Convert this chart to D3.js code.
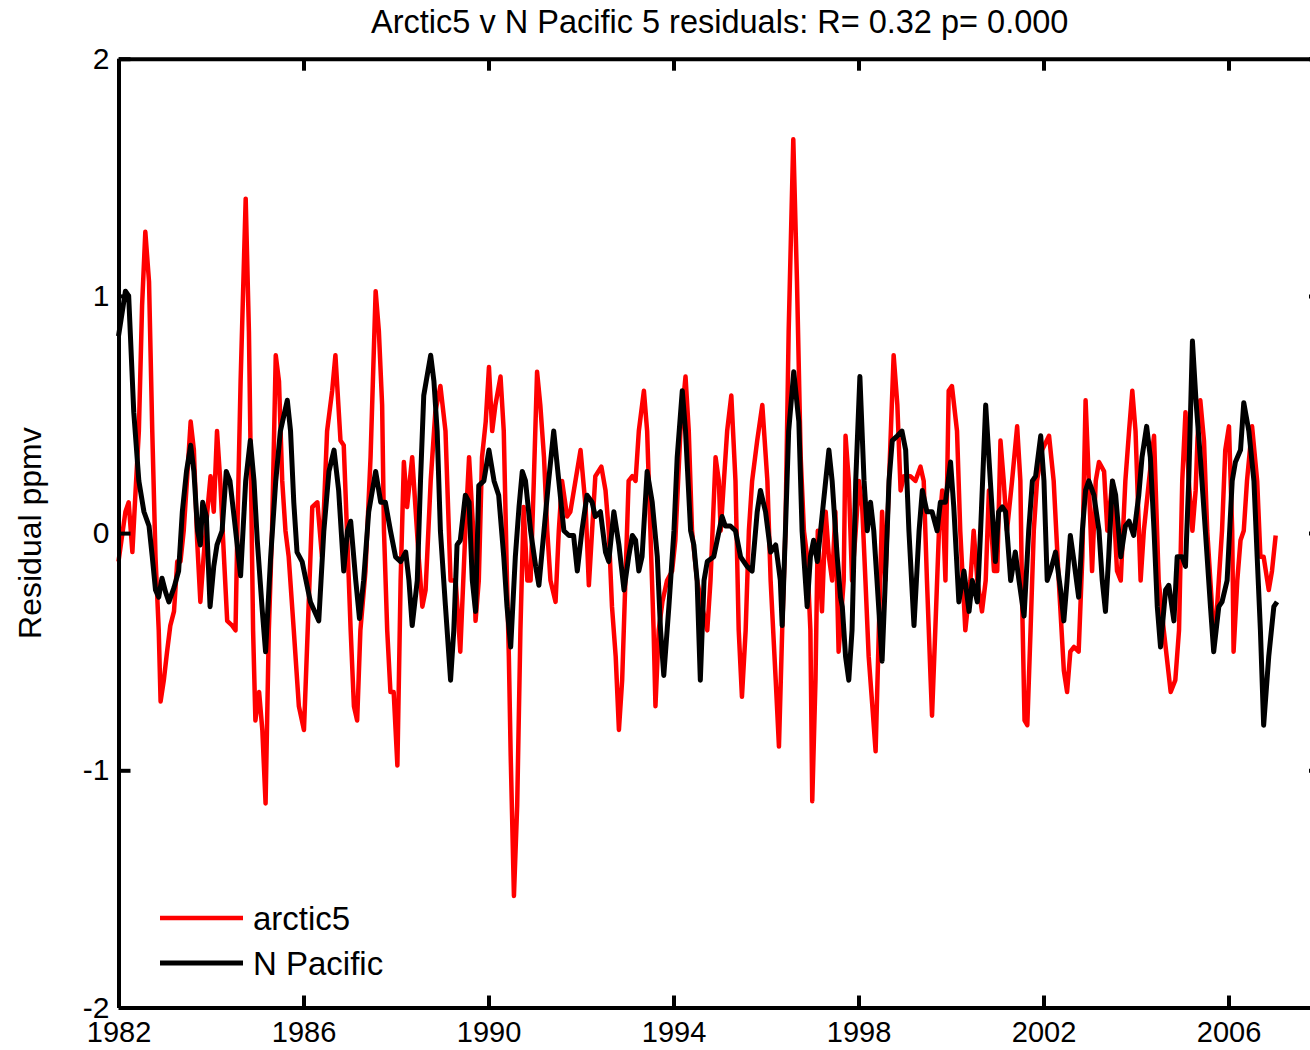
<!DOCTYPE html>
<html>
<head>
<meta charset="utf-8">
<script src="https://cdn.jsdelivr.net/npm/d3@7"></script>
<style>
  body { margin: 0; background: #fff; }
  text { font-family: "Liberation Sans", Arial, Helvetica, sans-serif; }
</style>
</head>
<body>
<div id="chart"></div>
<script>
var svgWidth = 1310;
var svgHeight = 1050;

var titleText = "Arctic5 v N Pacific 5 residuals: R= 0.32 p= 0.000";
var yLabelText = "Residual ppmv";
var seriesNames = ["arctic5", "N Pacific"];
var seriesColors = ["#ff0000", "#000000"];
var xTicks = [1982, 1986, 1990, 1994, 1998, 2002, 2006];
var yTicks = [-2, -1, 0, 1, 2];

// arctic5 residuals (red) at turning points
var arcticTime = [
  1982.00, 1982.15, 1982.22, 1982.30, 1982.37, 1982.44, 1982.51, 1982.58, 1982.66, 1982.73,
  1982.80, 1982.87, 1982.91, 1982.98, 1983.05, 1983.12, 1983.20, 1983.27, 1983.34, 1983.41,
  1983.48, 1983.56, 1983.63, 1983.70, 1983.77, 1983.84, 1983.92, 1983.99, 1984.06, 1984.13,
  1984.20, 1984.28, 1984.35, 1984.46, 1984.53, 1984.57, 1984.64, 1984.75, 1984.82, 1984.85,
  1984.91, 1984.96, 1985.04, 1985.11, 1985.18, 1985.25, 1985.32, 1985.40, 1985.47, 1985.54,
  1985.61, 1985.68, 1985.79, 1985.90, 1986.01, 1986.11, 1986.19, 1986.30, 1986.40, 1986.51,
  1986.62, 1986.69, 1986.80, 1986.87, 1986.94, 1987.02, 1987.09, 1987.16, 1987.23, 1987.34,
  1987.45, 1987.56, 1987.63, 1987.70, 1987.74, 1987.81, 1987.88, 1987.95, 1988.03, 1988.10,
  1988.17, 1988.24, 1988.35, 1988.42, 1988.49, 1988.57, 1988.64, 1988.75, 1988.85, 1988.96,
  1989.07, 1989.18, 1989.29, 1989.39, 1989.50, 1989.58, 1989.67, 1989.72, 1989.79, 1989.86,
  1989.94, 1990.01, 1990.08, 1990.15, 1990.26, 1990.33, 1990.40, 1990.44, 1990.48, 1990.55,
  1990.62, 1990.69, 1990.76, 1990.84, 1990.91, 1990.98, 1991.05, 1991.12, 1991.20, 1991.27,
  1991.34, 1991.45, 1991.52, 1991.59, 1991.70, 1991.77, 1991.88, 1991.99, 1992.10, 1992.17,
  1992.24, 1992.31, 1992.44, 1992.53, 1992.60, 1992.67, 1992.75, 1992.82, 1992.89, 1992.96,
  1993.03, 1993.11, 1993.18, 1993.25, 1993.36, 1993.43, 1993.50, 1993.57, 1993.61, 1993.68,
  1993.76, 1993.86, 1993.97, 1994.04, 1994.15, 1994.26, 1994.33, 1994.40, 1994.51, 1994.62,
  1994.73, 1994.80, 1994.91, 1994.98, 1995.02, 1995.09, 1995.16, 1995.25, 1995.34, 1995.41,
  1995.48, 1995.56, 1995.63, 1995.70, 1995.81, 1995.92, 1996.03, 1996.10, 1996.21, 1996.28,
  1996.35, 1996.42, 1996.49, 1996.59, 1996.67, 1996.75, 1996.82, 1996.89, 1996.96, 1997.00,
  1997.07, 1997.12, 1997.21, 1997.29, 1997.36, 1997.43, 1997.50, 1997.57, 1997.68, 1997.72,
  1997.79, 1997.86, 1997.94, 1998.01, 1998.08, 1998.15, 1998.22, 1998.30, 1998.37, 1998.44,
  1998.51, 1998.58, 1998.66, 1998.76, 1998.84, 1998.91, 1998.98, 1999.12, 1999.23, 1999.34,
  1999.41, 1999.48, 1999.56, 1999.59, 1999.66, 1999.74, 1999.81, 1999.88, 1999.95, 2000.02,
  2000.13, 2000.20, 2000.31, 2000.42, 2000.49, 2000.57, 2000.67, 2000.75, 2000.82, 2000.93,
  2001.00, 2001.07, 2001.14, 2001.21, 2001.32, 2001.43, 2001.50, 2001.54, 2001.59, 2001.65,
  2001.72, 2001.79, 2001.86, 2001.97, 2002.12, 2002.22, 2002.33, 2002.44, 2002.51, 2002.58,
  2002.66, 2002.76, 2002.84, 2002.91, 2002.98, 2003.05, 2003.13, 2003.20, 2003.31, 2003.38,
  2003.49, 2003.59, 2003.67, 2003.77, 2003.85, 2003.92, 2003.99, 2004.10, 2004.17, 2004.28,
  2004.39, 2004.49, 2004.60, 2004.75, 2004.85, 2004.93, 2005.00, 2005.07, 2005.14, 2005.22,
  2005.29, 2005.33, 2005.39, 2005.47, 2005.54, 2005.65, 2005.72, 2005.79, 2005.86, 2005.93,
  2006.01, 2006.08, 2006.11, 2006.19, 2006.26, 2006.33, 2006.40, 2006.51, 2006.62, 2006.69,
  2006.76, 2006.87, 2006.94, 2007.02
];
var arcticResid = [
  -0.12, 0.09, 0.13, -0.08, 0.18, 0.43, 0.96, 1.27, 1.06, 0.43,
  -0.10, -0.41, -0.71, -0.62, -0.50, -0.39, -0.33, -0.12, -0.12, 0.01,
  0.22, 0.47, 0.35, -0.03, -0.29, -0.10, 0.09, 0.24, 0.09, 0.43,
  0.22, -0.10, -0.37, -0.39, -0.41, 0.01, 0.64, 1.41, 0.85, 0.43,
  -0.41, -0.79, -0.67, -0.83, -1.14, -0.41, 0.01, 0.75, 0.64, 0.22,
  0.01, -0.10, -0.41, -0.73, -0.83, -0.31, 0.11, 0.13, -0.10, 0.43,
  0.60, 0.75, 0.39, 0.37, 0.01, -0.41, -0.73, -0.79, -0.41, -0.16,
  0.32, 1.02, 0.85, 0.54, 0.01, -0.41, -0.67, -0.67, -0.98, -0.20,
  0.30, 0.11, 0.32, 0.11, -0.10, -0.31, -0.24, 0.22, 0.51, 0.62,
  0.43, -0.20, -0.20, -0.50, 0.01, 0.32, 0.01, -0.37, -0.20, 0.32,
  0.47, 0.70, 0.43, 0.54, 0.66, 0.43, -0.20, -0.52, -0.94, -1.53,
  -1.15, -0.41, 0.11, -0.20, -0.20, 0.22, 0.68, 0.54, 0.32, 0.01,
  -0.20, -0.29, 0.01, 0.22, 0.07, 0.09, 0.22, 0.35, 0.11, -0.22,
  0.01, 0.24, 0.28, 0.18, 0.01, -0.31, -0.52, -0.83, -0.62, -0.20,
  0.22, 0.24, 0.22, 0.43, 0.60, 0.43, 0.01, -0.41, -0.73, -0.41,
  -0.29, -0.20, -0.16, -0.03, 0.43, 0.66, 0.43, 0.01, -0.20, -0.31,
  -0.41, -0.20, 0.32, 0.22, 0.01, 0.22, 0.43, 0.58, 0.22, -0.41,
  -0.69, -0.41, 0.01, 0.22, 0.39, 0.54, 0.22, -0.20, -0.62, -0.90,
  -0.41, 0.01, 0.85, 1.66, 1.06, 0.32, 0.01, -0.10, -0.41, -1.13,
  -0.62, 0.01, -0.33, 0.09, -0.10, -0.20, 0.09, -0.50, -0.20, 0.41,
  0.22, -0.20, 0.01, 0.22, 0.11, -0.20, -0.52, -0.73, -0.92, -0.41,
  0.09, -0.20, 0.22, 0.75, 0.54, 0.18, 0.24, 0.24, 0.22, 0.28,
  0.22, -0.20, -0.62, -0.77, -0.41, 0.01, 0.18, -0.20, 0.60, 0.62,
  0.43, 0.01, -0.41, -0.20, 0.01, -0.20, -0.33, -0.20, 0.18, -0.16,
  -0.16, 0.39, 0.22, 0.01, 0.22, 0.45, 0.22, -0.31, -0.79, -0.81,
  -0.41, 0.01, 0.22, 0.35, 0.41, 0.22, -0.20, -0.58, -0.67, -0.50,
  -0.48, -0.50, -0.10, 0.56, 0.22, -0.16, 0.22, 0.30, 0.26, 0.01,
  0.22, -0.16, -0.20, 0.22, 0.43, 0.60, 0.43, -0.20, 0.01, 0.22,
  0.41, -0.20, -0.41, -0.67, -0.62, -0.41, 0.22, 0.51, 0.22, 0.01,
  0.18, 0.40, 0.56, 0.39, 0.01, -0.33, -0.41, -0.20, 0.01, 0.35,
  0.45, 0.01, -0.50, -0.20, -0.03, 0.01, 0.22, 0.45, 0.22, -0.10,
  -0.10, -0.24, -0.16, -0.01
];

// N Pacific residuals (black)
var pacificTime = [
  1982.00, 1982.15, 1982.22, 1982.33, 1982.44, 1982.55, 1982.66, 1982.73, 1982.80, 1982.87,
  1982.94, 1983.02, 1983.09, 1983.20, 1983.30, 1983.38, 1983.47, 1983.56, 1983.63, 1983.71,
  1983.77, 1983.82, 1983.90, 1983.98, 1984.06, 1984.13, 1984.24, 1984.33, 1984.41, 1984.51,
  1984.64, 1984.75, 1984.85, 1984.93, 1985.00, 1985.11, 1985.18, 1985.29, 1985.40, 1985.50,
  1985.65, 1985.72, 1985.79, 1985.86, 1985.97, 1986.15, 1986.33, 1986.44, 1986.55, 1986.66,
  1986.76, 1986.87, 1986.95, 1987.02, 1987.13, 1987.21, 1987.30, 1987.41, 1987.56, 1987.67,
  1987.77, 1987.88, 1987.99, 1988.10, 1988.21, 1988.28, 1988.35, 1988.46, 1988.53, 1988.60,
  1988.75, 1988.82, 1988.89, 1988.96, 1989.07, 1989.18, 1989.25, 1989.32, 1989.39, 1989.50,
  1989.58, 1989.65, 1989.72, 1989.79, 1989.90, 1990.01, 1990.12, 1990.22, 1990.33, 1990.40,
  1990.48, 1990.58, 1990.66, 1990.73, 1990.80, 1990.91, 1991.02, 1991.09, 1991.20, 1991.30,
  1991.41, 1991.52, 1991.63, 1991.74, 1991.84, 1991.92, 1992.02, 1992.13, 1992.24, 1992.31,
  1992.42, 1992.53, 1992.60, 1992.71, 1992.82, 1992.93, 1993.03, 1993.11, 1993.18, 1993.25,
  1993.32, 1993.43, 1993.54, 1993.65, 1993.72, 1993.79, 1993.90, 1994.01, 1994.08, 1994.19,
  1994.26, 1994.37, 1994.44, 1994.51, 1994.58, 1994.66, 1994.73, 1994.87, 1995.05, 1995.12,
  1995.23, 1995.34, 1995.45, 1995.59, 1995.70, 1995.81, 1995.88, 1995.99, 1996.10, 1996.21,
  1996.31, 1996.35, 1996.42, 1996.49, 1996.60, 1996.71, 1996.78, 1996.89, 1996.96, 1997.03,
  1997.11, 1997.18, 1997.29, 1997.36, 1997.43, 1997.54, 1997.61, 1997.65, 1997.72, 1997.79,
  1997.86, 1997.94, 1998.03, 1998.12, 1998.19, 1998.26, 1998.33, 1998.40, 1998.51, 1998.58,
  1998.66, 1998.73, 1998.84, 1998.94, 1999.02, 1999.09, 1999.20, 1999.31, 1999.38, 1999.48,
  1999.59, 1999.70, 1999.77, 1999.88, 1999.99, 2000.06, 2000.17, 2000.28, 2000.39, 2000.46,
  2000.57, 2000.64, 2000.75, 2000.85, 2000.96, 2001.03, 2001.11, 2001.18, 2001.29, 2001.39,
  2001.47, 2001.58, 2001.68, 2001.76, 2001.83, 2001.94, 2002.01, 2002.08, 2002.15, 2002.26,
  2002.37, 2002.44, 2002.51, 2002.58, 2002.66, 2002.76, 2002.84, 2002.91, 2002.98, 2003.09,
  2003.20, 2003.27, 2003.34, 2003.41, 2003.49, 2003.56, 2003.67, 2003.77, 2003.85, 2003.95,
  2004.06, 2004.13, 2004.23, 2004.31, 2004.39, 2004.46, 2004.53, 2004.64, 2004.71, 2004.82,
  2004.89, 2005.00, 2005.07, 2005.14, 2005.22, 2005.30, 2005.39, 2005.50, 2005.61, 2005.68,
  2005.79, 2005.86, 2005.97, 2006.08, 2006.15, 2006.26, 2006.33, 2006.44, 2006.55, 2006.62,
  2006.69, 2006.76, 2006.87, 2006.98, 2007.05
];
var pacificResid = [
  0.83, 1.02, 1.00, 0.51, 0.22, 0.09, 0.03, -0.10, -0.24, -0.27,
  -0.19, -0.25, -0.29, -0.23, -0.16, 0.09, 0.26, 0.37, 0.26, 0.01,
  -0.05, 0.13, 0.07, -0.31, -0.14, -0.05, 0.01, 0.26, 0.22, 0.05,
  -0.18, 0.22, 0.39, 0.22, -0.03, -0.33, -0.50, -0.10, 0.22, 0.43,
  0.56, 0.43, 0.13, -0.08, -0.12, -0.29, -0.37, 0.01, 0.26, 0.35,
  0.18, -0.16, 0.01, 0.05, -0.20, -0.36, -0.20, 0.09, 0.26, 0.13,
  0.13, 0.01, -0.10, -0.12, -0.08, -0.20, -0.39, -0.20, 0.22, 0.58,
  0.75, 0.64, 0.43, 0.01, -0.31, -0.62, -0.41, -0.05, -0.03, 0.16,
  0.13, -0.20, -0.33, 0.20, 0.22, 0.35, 0.22, 0.16, -0.10, -0.31,
  -0.48, -0.10, 0.11, 0.26, 0.22, 0.01, -0.14, -0.22, 0.01, 0.22,
  0.43, 0.22, 0.01, -0.01, -0.01, -0.16, 0.01, 0.16, 0.13, 0.07,
  0.09, -0.08, -0.12, 0.09, -0.05, -0.24, -0.10, -0.01, -0.03, -0.16,
  -0.10, 0.26, 0.13, -0.10, -0.41, -0.60, -0.31, 0.01, 0.32, 0.60,
  0.43, 0.01, -0.05, -0.20, -0.62, -0.20, -0.12, -0.10, 0.07, 0.03,
  0.03, 0.01, -0.10, -0.14, -0.16, 0.09, 0.18, 0.09, -0.08, -0.05,
  -0.20, -0.39, 0.01, 0.43, 0.68, 0.47, 0.01, -0.31, -0.10, -0.03,
  -0.12, 0.01, 0.22, 0.35, 0.22, -0.10, -0.27, -0.31, -0.52, -0.62,
  -0.41, 0.22, 0.66, 0.22, 0.01, 0.13, 0.01, -0.20, -0.54, -0.20,
  0.22, 0.39, 0.41, 0.43, 0.35, 0.01, -0.39, 0.01, 0.18, 0.09,
  0.09, 0.01, 0.13, 0.13, 0.30, 0.11, -0.29, -0.16, -0.33, -0.20,
  -0.29, 0.01, 0.54, 0.22, -0.12, 0.09, 0.11, 0.09, -0.20, -0.08,
  -0.20, -0.35, 0.01, 0.22, 0.24, 0.41, 0.22, -0.20, -0.16, -0.08,
  -0.24, -0.37, -0.20, -0.01, -0.12, -0.27, 0.01, 0.18, 0.22, 0.16,
  0.01, -0.20, -0.33, -0.10, 0.22, 0.16, -0.10, 0.03, 0.05, -0.01,
  0.16, 0.32, 0.45, 0.32, 0.01, -0.31, -0.48, -0.24, -0.22, -0.37,
  -0.10, -0.10, -0.14, 0.22, 0.81, 0.55, 0.32, 0.01, -0.31, -0.50,
  -0.31, -0.29, -0.20, 0.22, 0.30, 0.35, 0.55, 0.43, 0.22, -0.10,
  -0.41, -0.81, -0.52, -0.31, -0.29
];

var axLeft = 118.5, axRight = 1321, axTop = 58.7, axBottom = 1007.5;

var svg = d3.select("#chart")
  .append("svg")
  .attr("width", svgWidth)
  .attr("height", svgHeight)
  .style("display", "block")
  .style("background", "#fff");

var x = d3.scaleLinear().domain([1982, 2008]).range([axLeft, axRight]);
var y = d3.scaleLinear().domain([-2, 2]).range([axBottom, axTop]);

var line = d3.line()
  .x(d => x(d[0]))
  .y(d => y(d[1]));

var series = [
  d3.zip(arcticTime, arcticResid),
  d3.zip(pacificTime, pacificResid)
];
var widths = [4.5, 5];

series.forEach(function(pts, i) {
  svg.append("path")
    .datum(pts)
    .attr("d", line)
    .attr("fill", "none")
    .attr("stroke", seriesColors[i])
    .attr("stroke-width", widths[i])
    .attr("stroke-linejoin", "round");
});

// MATLAB style box with inward ticks
function styleAxis(g, labels, size) {
  g.selectAll("path, line")
    .attr("stroke", "#000")
    .attr("stroke-width", 4);
  g.selectAll("text")
    .attr("font-family", "'Liberation Sans', Arial, sans-serif")
    .attr("font-size", size)
    .attr("fill", "#000");
  if (!labels) g.selectAll("text").remove();
}

svg.append("g")
  .attr("transform", `translate(0, ${axBottom})`)
  .call(d3.axisBottom(x).tickValues(xTicks).tickSize(-12).tickSizeOuter(0).tickPadding(14).tickFormat(d3.format("d")))
  .call(g => styleAxis(g, true, 29));

svg.append("g")
  .attr("transform", `translate(0, ${axTop})`)
  .call(d3.axisTop(x).tickValues(xTicks).tickSize(-12).tickSizeOuter(0))
  .call(g => styleAxis(g, false, 29));

svg.append("g")
  .attr("transform", `translate(${axLeft}, 0)`)
  .call(d3.axisLeft(y).tickValues(yTicks).tickSize(-12).tickSizeOuter(0).tickPadding(9).tickFormat(d => d < 0 ? "-" + Math.abs(d) : d))
  .call(g => styleAxis(g, true, 30));

svg.append("g")
  .attr("transform", `translate(${axRight}, 0)`)
  .call(d3.axisRight(y).tickValues(yTicks).tickSize(-12).tickSizeOuter(0))
  .call(g => styleAxis(g, false, 30));

svg.append("text")
  .attr("x", (axLeft + axRight) / 2)
  .attr("y", 33)
  .attr("text-anchor", "middle")
  .attr("font-size", 32.5)
  .text(titleText);

svg.append("text")
  .attr("transform", `translate(41, ${(axTop + axBottom) / 2}) rotate(-90)`)
  .attr("text-anchor", "middle")
  .attr("font-size", 32)
  .text(yLabelText);

// legend
var legend = svg.append("g").attr("transform", "translate(160, 918)");
seriesNames.forEach(function(name, i) {
  legend.append("line")
    .attr("x1", 0).attr("x2", 83)
    .attr("y1", i * 45).attr("y2", i * 45)
    .attr("stroke", seriesColors[i])
    .attr("stroke-width", widths[i]);
  legend.append("text")
    .attr("x", 93)
    .attr("y", i * 45 + 12)
    .attr("font-size", 33)
    .text(name);
});
</script>
</body>
</html>
